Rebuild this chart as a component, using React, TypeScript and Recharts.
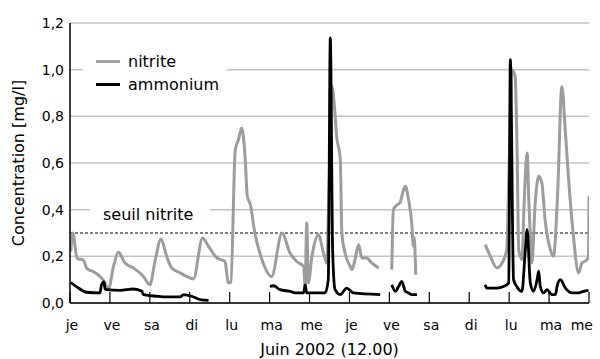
import { LineChart, Line, XAxis, YAxis, CartesianGrid, ReferenceLine, Label } from 'recharts';

// x in days since Thursday (12.00), y in mg/l; null splits the measured segments
const nitriteDays = [
  0.02, 0.07, 0.18, 0.33, 0.43, 0.58, 0.75, 0.88, 0.96, 1.09, 1.21, 1.38, 1.59, 1.84, 2.0, 2.13, 2.28, 2.42, 2.55,
  2.76, 2.92, 3.09, 3.32, 3.47, 3.68, 3.88, 3.97, 4.03, 4.14, 4.22, 4.3, 4.39, 4.44, 4.52, 4.63, 4.8, 5.05, 5.31,
  5.51, 5.68, 5.85, 5.89, 5.93, 5.97, 6.06, 6.22, 6.35, 6.43, 6.49, 6.56, 6.62, 6.68, 6.77, 6.81, 6.89, 7.02, 7.06,
  7.14, 7.23, 7.31, 7.44, 7.52, 7.73,
  7.9,
  8.06, 8.1, 8.19, 8.27, 8.31, 8.4, 8.48, 8.56, 8.6, 8.62, 8.66,
  9.5,
  10.4, 10.53, 10.69, 10.82, 10.94, 11.0, 11.07, 11.15, 11.2, 11.24, 11.32, 11.38, 11.45, 11.49, 11.53, 11.57, 11.65,
  11.74, 11.82, 11.9, 12.03, 12.11, 12.21, 12.32, 12.41, 12.49, 12.61, 12.74, 12.82, 12.95, 12.99, 13.0,
];
const nitriteValues = [
  0.22, 0.3, 0.19, 0.185, 0.146, 0.135, 0.114, 0.086, 0.057, 0.157, 0.217, 0.171, 0.15, 0.114, 0.078, 0.18, 0.274,
  0.2, 0.15, 0.129, 0.114, 0.103, 0.279, 0.243, 0.193, 0.178, 0.086, 0.09, 0.657, 0.7, 0.75, 0.614, 0.46, 0.42, 0.3,
  0.19, 0.114, 0.3, 0.214, 0.178, 0.157, 0.071, 0.343, 0.086, 0.2, 0.293, 0.214, 0.171, 0.5, 0.928, 0.85, 0.714,
  0.614, 0.3, 0.214, 0.157, 0.143, 0.186, 0.25, 0.193, 0.193, 0.178, 0.15,
  null,
  0.143, 0.4, 0.42, 0.43, 0.457, 0.5, 0.443, 0.343, 0.243, 0.28, 0.121,
  null,
  0.25, 0.2, 0.15, 0.171, 0.229, 0.6, 1.0, 0.97, 0.643, 0.229, 0.186, 0.45, 0.643, 0.45, 0.286, 0.171, 0.42, 0.543,
  0.514, 0.357, 0.229, 0.2, 0.45, 0.928, 0.729, 0.529, 0.286, 0.129, 0.171, 0.186, 0.2, 0.457,
];

const ammoniumDays = [
  0.02, 0.17, 0.42, 0.75, 0.79, 0.85, 0.88, 0.92, 1.25, 1.59, 1.8, 1.84, 2.17, 2.42, 2.76, 2.84, 3.05, 3.26, 3.47,
  4.2,
  5.01, 5.1, 5.26, 5.51, 5.68, 5.85, 5.89, 5.93, 6.39, 6.47, 6.52, 6.58, 6.64, 6.77, 6.93, 7.1, 7.77,
  7.9,
  8.06, 8.15, 8.23, 8.31, 8.4, 8.48, 8.56, 8.69,
  9.5,
  10.4, 10.44, 10.69, 10.86, 10.99, 11.03, 11.11, 11.19, 11.32, 11.4, 11.45, 11.53, 11.61, 11.7, 11.74, 11.78, 11.86,
  11.95, 12.07, 12.16, 12.2, 12.28, 12.41, 12.57, 12.74, 12.86, 12.99,
];
const ammoniumValues = [
  0.088, 0.069, 0.046, 0.043, 0.078, 0.09, 0.06, 0.057, 0.054, 0.06, 0.05, 0.036, 0.029, 0.026, 0.026, 0.036, 0.029,
  0.014, 0.011,
  null,
  0.071, 0.074, 0.057, 0.05, 0.043, 0.043, 0.078, 0.043, 0.043, 0.1, 1.136, 0.214, 0.057, 0.036, 0.064, 0.043, 0.036,
  null,
  0.078, 0.05, 0.071, 0.093, 0.05, 0.043, 0.036, 0.036,
  null,
  0.078, 0.064, 0.064, 0.071, 0.086, 1.043, 0.1, 0.071, 0.05, 0.214, 0.314, 0.086, 0.05, 0.1, 0.136, 0.071, 0.043,
  0.057, 0.036, 0.036, 0.071, 0.1, 0.064, 0.043, 0.043, 0.05, 0.054,
];

const dayLabels = ['je', 've', 'sa', 'di', 'lu', 'ma', 'me', 'je', 've', 'sa', 'di', 'lu', 'ma', 'me'];
const yTicks = [0, 0.2, 0.4, 0.6, 0.8, 1.0, 1.2];
const threshold = 0.3;

const FONT = '"DejaVu Sans", sans-serif';

const nitriteData = nitriteDays.map((d, i) => ({ d, v: nitriteValues[i] }));
const ammoniumData = ammoniumDays.map((d, i) => ({ d, v: ammoniumValues[i] }));

function DayTick(props: any) {
  const { x, y, payload } = props;
  const last = payload.value === dayLabels.length - 1;
  return (
    <g>
      <line x1={x} x2={x} y1={y} y2={y - 11} stroke="#000" strokeWidth={1.2} />
      <text
        x={last ? x + 4 : x + 2}
        y={y + 27}
        textAnchor={last ? 'end' : 'middle'}
        fontSize={14}
        fontFamily={FONT}
        fill="#000"
      >
        {dayLabels[payload.value]}
      </text>
    </g>
  );
}

function LegendBox() {
  const rows = [
    { name: 'nitrite', color: '#a0a0a0' },
    { name: 'ammonium', color: '#000' },
  ];
  return (
    <div
      style={{
        position: 'absolute',
        left: 83,
        top: 50,
        background: '#fff',
        padding: '0 8px 2px 13px',
        fontFamily: FONT,
        fontSize: 16,
      }}
    >
      {rows.map((r) => (
        <div key={r.name} style={{ display: 'flex', alignItems: 'center', height: 23 }}>
          <span style={{ width: 24, height: 3, background: r.color, marginRight: 8 }} />
          <span>{r.name}</span>
        </div>
      ))}
    </div>
  );
}

export default function App() {
  return (
    <div style={{ position: 'relative', width: 600, height: 359, background: '#fff' }}>
      <style>{'body{margin:0}'}</style>
      <LineChart width={600} height={359} margin={{ top: 23, right: 11, bottom: 0, left: 0 }}>
        <CartesianGrid vertical={false} stroke="#c4c4c4" strokeWidth={1.5} />
        <XAxis
          type="number"
          dataKey="d"
          domain={[0, 13]}
          ticks={dayLabels.map((_, i) => i)}
          interval={0}
          tick={<DayTick />}
          tickLine={false}
          tickSize={0}
          tickMargin={0}
          height={56}
          axisLine={{ stroke: '#000', strokeWidth: 1.5 }}
          allowDataOverflow
        >
          <Label
            value="Juin 2002 (12.00)"
            position="insideBottom"
            offset={4}
            style={{ fontFamily: FONT, fontSize: 16, fill: '#000' }}
          />
        </XAxis>
        <YAxis
          type="number"
          domain={[0, 1.2]}
          ticks={yTicks}
          width={70}
          tickLine={false}
          tickSize={0}
          tickMargin={6}
          tickFormatter={(v: number) => v.toFixed(1).replace('.', ',')}
          tick={{ fontSize: 14, fontFamily: FONT, fill: '#000' }}
          axisLine={{ stroke: '#000', strokeWidth: 1.5 }}
        >
          <Label
            content={({ viewBox }: any) => {
              const cx = 18;
              const cy = viewBox.y + viewBox.height / 2;
              return (
                <text
                  x={cx}
                  y={cy}
                  transform={`rotate(-90, ${cx}, ${cy})`}
                  textAnchor="middle"
                  dominantBaseline="central"
                  fontFamily={FONT}
                  fontSize={16}
                  fill="#000"
                >
                  Concentration [mg/l]
                </text>
              );
            }}
          />
        </YAxis>
        <ReferenceLine
          y={threshold}
          stroke="#000"
          strokeWidth={1}
          strokeDasharray="3 2"
          label={({ viewBox }: any) => (
            <g>
              <rect x={viewBox.x + 20} y={viewBox.y - 32} width={120} height={24} fill="#fff" />
              <text x={viewBox.x + 33} y={viewBox.y - 13} fontFamily={FONT} fontSize={16} fill="#000">
                seuil nitrite
              </text>
            </g>
          )}
        />
        <Line
          data={nitriteData}
          dataKey="v"
          type="monotone"
          stroke="#9c9c9c"
          strokeWidth={3}
          dot={false}
          isAnimationActive={false}
        />
        <Line
          data={ammoniumData}
          dataKey="v"
          type="monotone"
          stroke="#000"
          strokeWidth={2.8}
          dot={false}
          isAnimationActive={false}
        />
      </LineChart>
      <LegendBox />
    </div>
  );
}
